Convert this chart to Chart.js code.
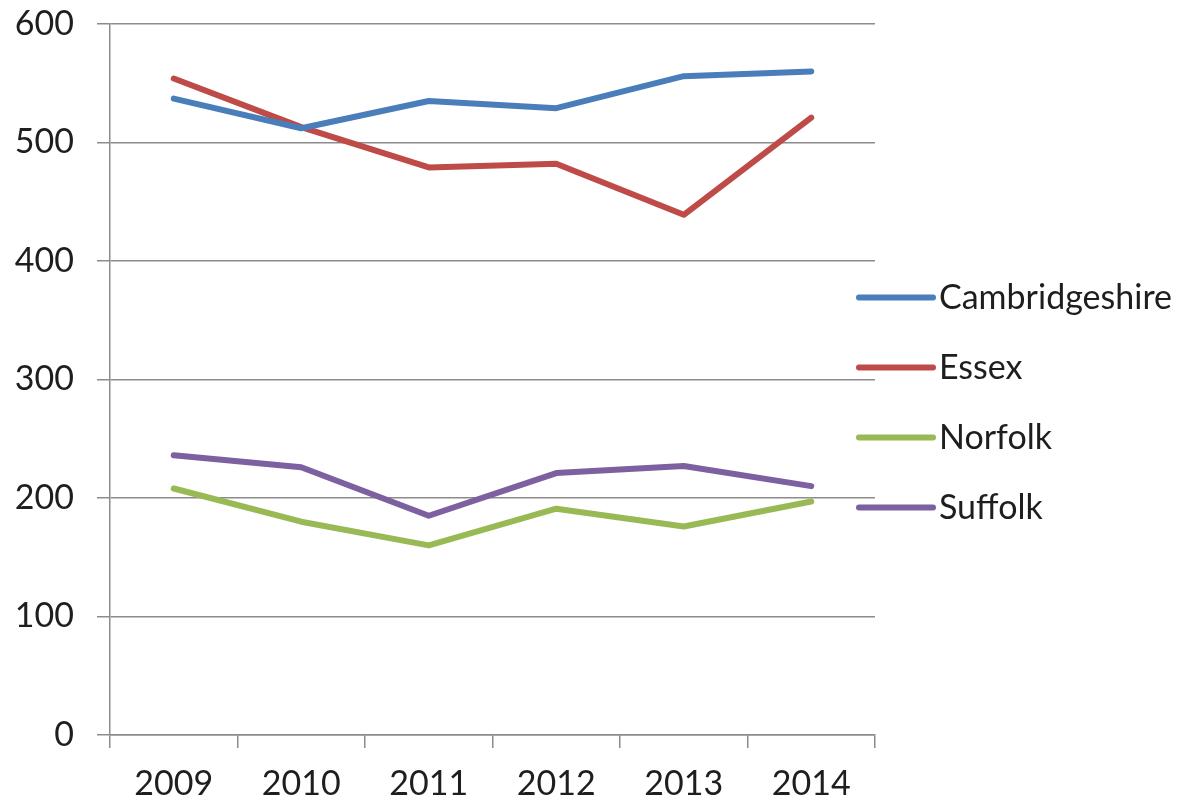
<!DOCTYPE html>
<html>
<head>
<meta charset="utf-8">
<script src="https://cdn.jsdelivr.net/npm/chart.js@4"></script>
<style>
  html, body { margin: 0; padding: 0; background: #fff; }
  #wrap { width: 1189px; height: 805px; }
</style>
</head>
<body>
<div id="wrap"><canvas id="chart"></canvas></div>
<script>
const years = ['2009', '2010', '2011', '2012', '2013', '2014'];
const cambridgeshire = [537, 512, 535, 529, 556, 560];
const essex = [554, 513, 479, 482, 439, 521];
const norfolk = [208, 180, 160, 191, 176, 197];
const suffolk = [236, 226, 185, 221, 227, 210];
const yTicks = [0, 100, 200, 300, 400, 500, 600];

const FONT = 'Lato, "Noto Sans", sans-serif';
const GRID = '#8c8c8c';

function series(label, data, color) {
  return {
    label: label,
    data: data,
    borderColor: color,
    backgroundColor: color,
    borderWidth: 6,
    pointRadius: 0,
    tension: 0,
    borderCapStyle: 'round',
    borderJoinStyle: 'round'
  };
}

// legend drawn beside the plot, lines slightly overlap the grid end like the original
const sideLegend = {
  id: 'sideLegend',
  afterDraw(chart) {
    const ctx = chart.ctx;
    const sets = chart.data.datasets;
    const gap = 70;
    const y0 = chart.height / 2 - gap * (sets.length - 1) / 2;
    ctx.save();
    ctx.font = '34px ' + FONT;
    ctx.textBaseline = 'middle';
    ctx.fillStyle = '#1e1e1e';
    sets.forEach((ds, i) => {
      const y = y0 + i * gap;
      ctx.beginPath();
      ctx.strokeStyle = ds.borderColor;
      ctx.lineWidth = 6;
      ctx.lineCap = 'round';
      ctx.moveTo(859, y);
      ctx.lineTo(933, y);
      ctx.stroke();
      ctx.fillText(ds.label, 939, y + 1);
    });
    ctx.restore();
  }
};

new Chart(document.getElementById('chart'), {
  type: 'line',
  data: {
    labels: years,
    datasets: [
      series('Cambridgeshire', cambridgeshire, '#4a7ebb'),
      series('Essex', essex, '#be4b48'),
      series('Norfolk', norfolk, '#98b954'),
      series('Suffolk', suffolk, '#7d60a0')
    ]
  },
  options: {
    responsive: true,
    maintainAspectRatio: false,
    animation: false,
    devicePixelRatio: 1,
    layout: { padding: { left: 0, right: 314, top: 24, bottom: 0 } },
    plugins: {
      legend: { display: false },
      tooltip: { enabled: false }
    },
    scales: {
      x: {
        offset: true,
        grid: {
          offset: true,
          drawOnChartArea: false,
          drawTicks: true,
          tickLength: 13,
          color: GRID,
          lineWidth: 1.5
        },
        border: { display: true, color: GRID, width: 1.5 },
        ticks: {
          color: '#1e1e1e',
          font: { family: FONT, size: 34 },
          padding: 16,
          maxRotation: 0
        },
        afterFit(scale) {
          scale.height = 70;
          scale.paddingLeft = 0;
          scale.paddingRight = 0;
        }
      },
      y: {
        min: 0,
        max: 600,
        afterBuildTicks(scale) { scale.ticks = yTicks.map(v => ({ value: v })); },
        grid: {
          color: GRID,
          lineWidth: 1.5,
          tickLength: 13
        },
        border: { display: true, color: GRID, width: 1.5 },
        ticks: {
          color: '#1e1e1e',
          font: { family: FONT, size: 34 },
          padding: 23
        },
        afterFit(scale) {
          scale.width = 110;
          scale.paddingTop = 0;
          scale.paddingBottom = 0;
        }
      }
    }
  },
  plugins: [sideLegend]
});
</script>
</body>
</html>
